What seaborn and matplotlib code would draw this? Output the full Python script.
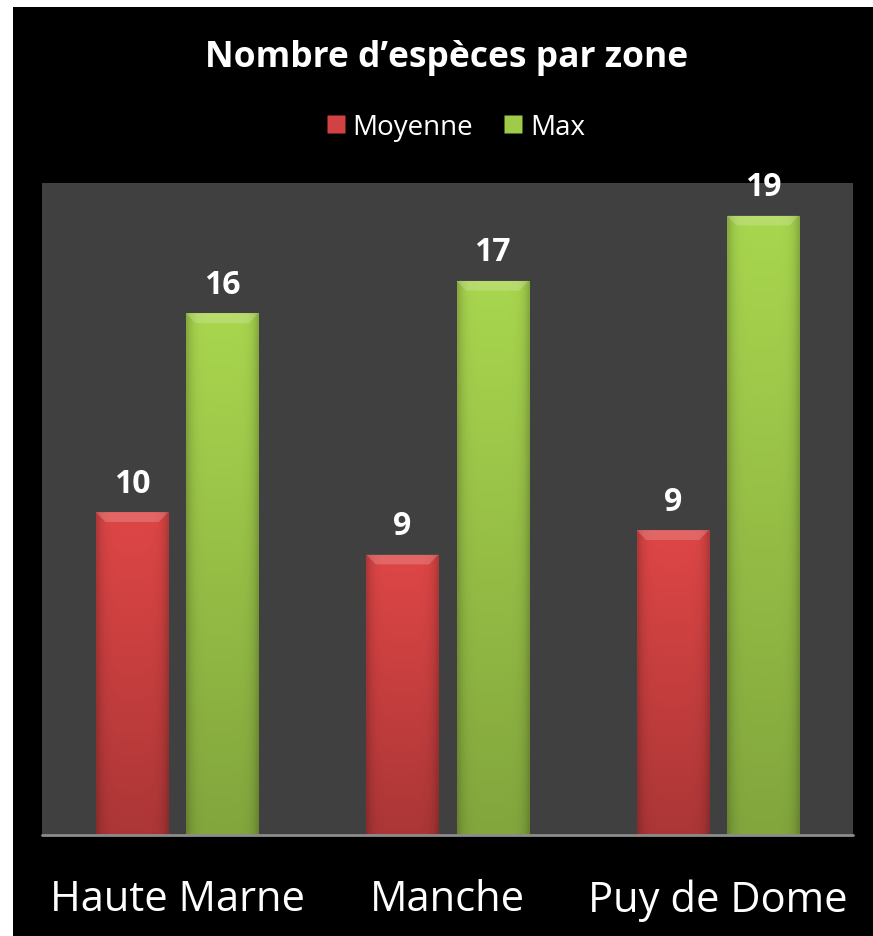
import numpy as np
import pandas as pd
import matplotlib
matplotlib.use("Agg")
import matplotlib.pyplot as plt
import seaborn as sns
from matplotlib.patches import Rectangle, Polygon
from matplotlib.lines import Line2D
from matplotlib.colors import to_rgb

# données
zones = ["Haute Marne", "Manche", "Puy de Dome"]
moyenne = [9.9, 8.6, 9.35]
maximum = [16, 17, 19]
series = ["Moyenne", "Max"]
couleurs = {"Moyenne": "#d24242", "Max": "#9fca4a"}

df = pd.DataFrame({
    "zone": zones * 2,
    "serie": ["Moyenne"] * len(zones) + ["Max"] * len(zones),
    "valeur": moyenne + maximum,
})

sns.set_style("dark")
plt.rcParams["font.family"] = ["Open Sans", "DejaVu Sans"]

fig = plt.figure(figsize=(8.73, 9.37), dpi=100, facecolor="white")
# fond noir du graphique (marge blanche à gauche et en haut)
fig.patches.append(Rectangle((13 / 873, 0), 1, (937 - 8) / 937, transform=fig.transFigure,
                             facecolor="black", edgecolor="none", zorder=-10))

ax = fig.add_axes([42 / 873, 101 / 937, 811 / 873, 652 / 937])
ax.set_facecolor("#404040")

sns.barplot(data=df, x="zone", y="valeur", hue="serie", hue_order=series,
            palette=couleurs, width=0.667, gap=0.2, ax=ax, legend=False,
            edgecolor="none", linewidth=0)


def degrade(base):
    # dégradé vertical + assombrissement sur les bords
    r, g, b = to_rgb(base)
    v = np.linspace(1.06, 0.82, 64)[:, None]
    h = 1 - 0.2 * np.abs(np.linspace(-1, 1, 32))[None, :] ** 6
    f = v * h
    img = np.dstack([np.clip(r * f, 0, 1), np.clip(g * f, 0, 1), np.clip(b * f, 0, 1)])
    return img


for cont, s in zip(ax.containers, series):
    img = degrade(couleurs[s])
    for p in cont.patches:
        x0, y0 = p.get_x(), p.get_y()
        w, hgt = p.get_width(), p.get_height()
        im = ax.imshow(img, extent=[x0, x0 + w, y0, y0 + hgt], aspect="auto",
                       origin="upper", zorder=p.get_zorder() + 0.1, interpolation="bilinear")
        im.set_clip_path(p)
        # biseau clair en haut
        top = y0 + hgt
        dx, dy = 0.035, 0.3
        ax.add_patch(Polygon([(x0, top), (x0 + w, top), (x0 + w - dx, top - dy), (x0 + dx, top - dy)],
                             closed=True, facecolor="white", alpha=0.18, edgecolor="none",
                             zorder=p.get_zorder() + 0.2))
    ax.bar_label(cont, fmt="%.0f", padding=9, color="white", fontsize=23,
                 fontweight="bold")

ax.set_xlim(-0.5, 2.5)
ax.set_ylim(0, 20)
ax.set_yticks([])
ax.set_xlabel("")
ax.set_ylabel("")
ax.grid(False)
for sp in ax.spines.values():
    sp.set_visible(False)
ax.axhline(0, color="#8c8c8c", lw=2, zorder=5, clip_on=False)
ax.tick_params(axis="x", length=0, pad=31, labelsize=30, labelcolor="white")

fig.text(447 / 873, (937 - 58) / 937, "Nombre d\u2019espèces par zone", ha="center", va="center",
         color="white", fontsize=25.5, fontweight="bold")

handles = [Line2D([], [], marker="s", linestyle="none", markersize=13,
                  markerfacecolor=couleurs[s], markeredgecolor="none") for s in series]
fig.legend(handles, series, loc="center", bbox_to_anchor=(454 / 873, (937 - 128) / 937),
           ncol=2, frameon=False, fontsize=20, labelcolor="white",
           handletextpad=0.15, columnspacing=1.0, handlelength=0.9)

fig.savefig("out.png", dpi=100, facecolor=fig.get_facecolor())
